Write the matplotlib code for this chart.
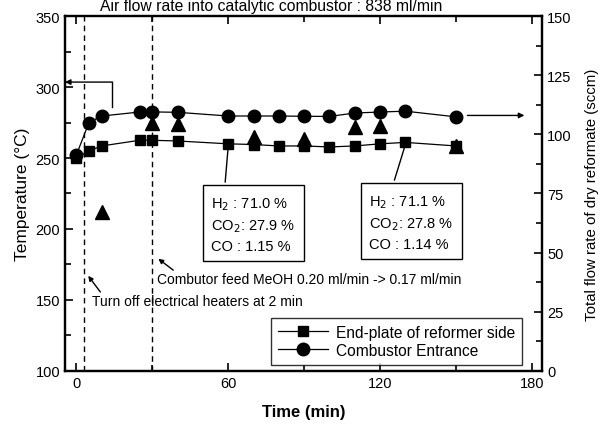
import numpy as np
import matplotlib.pyplot as plt
from matplotlib.ticker import MultipleLocator

plt.rcParams['font.family'] = ['Liberation Sans', 'DejaVu Sans']

# temperature series (left axis)
t_temp = [0, 5, 10, 25, 30, 40, 60, 70, 80, 90, 100, 110, 120, 130, 150]
end_plate = [250, 255, 258.5, 262.5, 262.5, 262, 260, 259.5, 258.5, 258.5, 257.8, 258.5, 260, 261, 258.5]
comb_entr = [252, 275, 279.6, 282.4, 282.5, 282.2, 279.6, 279.6, 279.6, 279.4, 279.3, 281.7, 282.4, 283, 279]

# flow rate of dry reformate (right axis)
t_flow = [10, 30, 40, 70, 90, 110, 120, 150]
flow = [67, 105, 104.4, 99, 98, 103, 103.5, 95]

fig = plt.figure(figsize=(6.01, 4.27), dpi=100)
ax = fig.add_axes([0.108, 0.129, 0.794, 0.831])
ax2 = ax.twinx()

ax.plot(t_temp, end_plate, color='k', lw=0.9, marker='s', ms=7.5, label='End-plate of reformer side')
ax.plot(t_temp, comb_entr, color='k', lw=0.9, marker='o', ms=9, label='Combustor Entrance')
ax2.plot(t_flow, flow, ls='none', color='k', marker='^', ms=9.5)

ax.set_xlim(-4.5, 184)
ax.set_ylim(100, 350)
ax2.set_ylim(0, 150)

for xv in [3, 30]:
    ax.axvline(xv, color='k', lw=1, ls=(0, (4, 3)))

ax.xaxis.set_major_locator(MultipleLocator(60))
ax.xaxis.set_minor_locator(MultipleLocator(30))
ax.yaxis.set_major_locator(MultipleLocator(50))
ax.yaxis.set_minor_locator(MultipleLocator(25))
ax2.yaxis.set_major_locator(MultipleLocator(25))
ax2.yaxis.set_minor_locator(MultipleLocator(12.5))

ax.tick_params(which='both', direction='in', top=True, labelsize=10.5, width=1.2)
ax.tick_params(which='major', length=6)
ax.tick_params(which='minor', length=4)
ax2.tick_params(which='both', direction='in', labelsize=10.5, width=1.2)
ax2.tick_params(which='major', length=6)
ax2.tick_params(which='minor', length=4)
for a in (ax, ax2):
    for s in a.spines.values():
        s.set_linewidth(1.6)

ax.set_xlabel('Time (min)', fontsize=12, fontweight='bold', labelpad=10)
ax.set_ylabel('Temperature (\u00b0C)', fontsize=12.5)
ax2.set_ylabel('Total flow rate of dry reformate (sccm)', fontsize=10.8, labelpad=10)

# top caption
ax.text(77, 354, 'Air flow rate into catalytic combustor : 838 ml/min',
        ha='center', va='baseline', fontsize=11.3)

# arrows to the axes
ax.annotate('', xy=(-4.5, 303.5), xytext=(14.2, 303.5),
            arrowprops=dict(arrowstyle='-|>', color='k', lw=1, mutation_scale=8,
                            shrinkA=0, shrinkB=0))
ax.plot([14.2, 14.2], [286, 303.5], color='k', lw=1)
ax.annotate('', xy=(177, 280), xytext=(154.5, 280),
            arrowprops=dict(arrowstyle='-|>', color='k', lw=1, mutation_scale=8,
                            shrinkA=0, shrinkB=0))

# event annotations
ax.text(32, 165, 'Combutor feed MeOH 0.20 ml/min -> 0.17 ml/min', fontsize=10, va='center')
ax.annotate('', xy=(32.4, 179), xytext=(38.3, 171),
            arrowprops=dict(arrowstyle='-|>', color='k', lw=1, mutation_scale=7,
                            shrinkA=0, shrinkB=0))
ax.text(6.3, 149.3, 'Turn off electrical heaters at 2 min', fontsize=10, va='center')
ax.annotate('', xy=(4.7, 167), xytext=(9.5, 155.6),
            arrowprops=dict(arrowstyle='-|>', color='k', lw=1, mutation_scale=7,
                            shrinkA=0, shrinkB=0))

# composition boxes
box = dict(boxstyle='square,pad=0.55', fc='white', ec='k', lw=1)
ax.annotate('H$_2$ : 71.0 %\nCO$_2$: 27.9 %\nCO : 1.15 %', xy=(60, 258),
            xytext=(70, 203.5), fontsize=10.5, ha='center', va='center',
            multialignment='left', linespacing=1.45, bbox=box,
            arrowprops=dict(arrowstyle='-', color='k', lw=1, relpos=(0.15, 1)))
ax.annotate('H$_2$ : 71.1 %\nCO$_2$: 27.8 %\nCO : 1.14 %', xy=(130, 259.5),
            xytext=(132.4, 205), fontsize=10.5, ha='center', va='center',
            multialignment='left', linespacing=1.45, bbox=box,
            arrowprops=dict(arrowstyle='-', color='k', lw=1, relpos=(0.25, 1)))

leg = ax.legend(loc='lower right', bbox_to_anchor=(0.958, 0.017), fontsize=11.2,
                frameon=True, fancybox=False, edgecolor='k', handlelength=3.2,
                borderpad=0.45, labelspacing=0.2, handletextpad=0.5,
                borderaxespad=0)
leg.get_frame().set_linewidth(1)

fig.savefig('out.png', dpi=100)
